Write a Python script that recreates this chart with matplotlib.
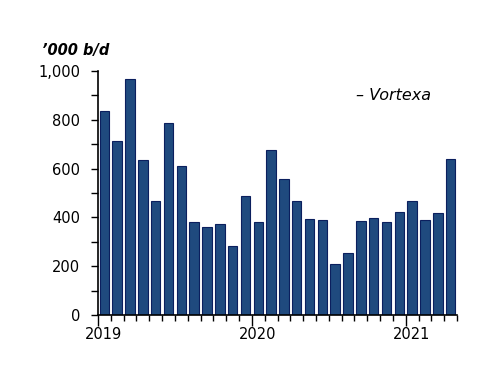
import matplotlib
matplotlib.use("Agg")
import matplotlib.pyplot as plt
import matplotlib.transforms as mtransforms
from matplotlib.ticker import MultipleLocator, FixedLocator

# Monthly values, Jan 2019 - Apr 2021 ('000 b/d)
values = [836, 714, 967, 635, 467, 788, 609, 381, 361, 372, 283, 486,
          380, 676, 556, 469, 395, 389, 209, 254, 386, 397, 383, 421,
          469, 389, 418, 641]
year_labels = ["2019", "2020", "2021"]
year_starts = [0, 12, 24]

plt.rcParams['font.family'] = ['DejaVu Sans']

fig = plt.figure(figsize=(5, 3.86), dpi=100)
ax = fig.add_axes([0.196, 0.184, 0.718, 0.632])

x = list(range(len(values)))
ax.bar(x, values, width=0.74, color='#1f4a7e', edgecolor='#0b1f5e', linewidth=0.8)

ax.set_xlim(-0.5, len(values) - 0.5)
ax.set_ylim(0, 1000)

# y axis
ax.yaxis.set_major_locator(MultipleLocator(200))
ax.yaxis.set_minor_locator(MultipleLocator(100))
ax.yaxis.set_major_formatter(matplotlib.ticker.FuncFormatter(lambda v, p: f"{int(v):,}"))
ax.tick_params(axis='y', which='major', length=5, width=1, labelsize=10.5, pad=8)
ax.tick_params(axis='y', which='minor', length=5, width=1)

# x axis: ticks on month boundaries, year labels at the year ticks
ax.xaxis.set_major_locator(FixedLocator([s - 0.5 for s in year_starts]))
ax.set_xticklabels(year_labels)
ax.xaxis.set_minor_locator(FixedLocator([i - 0.5 for i in range(len(values) + 1)]))
ax.tick_params(axis='x', which='major', length=8, width=1, labelsize=10.5, pad=1)
ax.tick_params(axis='x', which='minor', length=4, width=1)
offset = mtransforms.ScaledTranslation(6 / 100, 0, fig.dpi_scale_trans)
for lbl in ax.get_xticklabels():
    lbl.set_transform(lbl.get_transform() + offset)

for s in ['top', 'right']:
    ax.spines[s].set_visible(False)
for s in ['left', 'bottom']:
    ax.spines[s].set_linewidth(1.2)

fig.text(0.084, 0.868, "’000 b/d", fontsize=10.5, fontstyle='italic',
         fontweight='bold', va='center', ha='left')
ax.text(0.72, 0.90, "– Vortexa", transform=ax.transAxes, fontsize=11.5,
        fontstyle='italic', va='center', ha='left')

fig.savefig("out.png", dpi=100)
